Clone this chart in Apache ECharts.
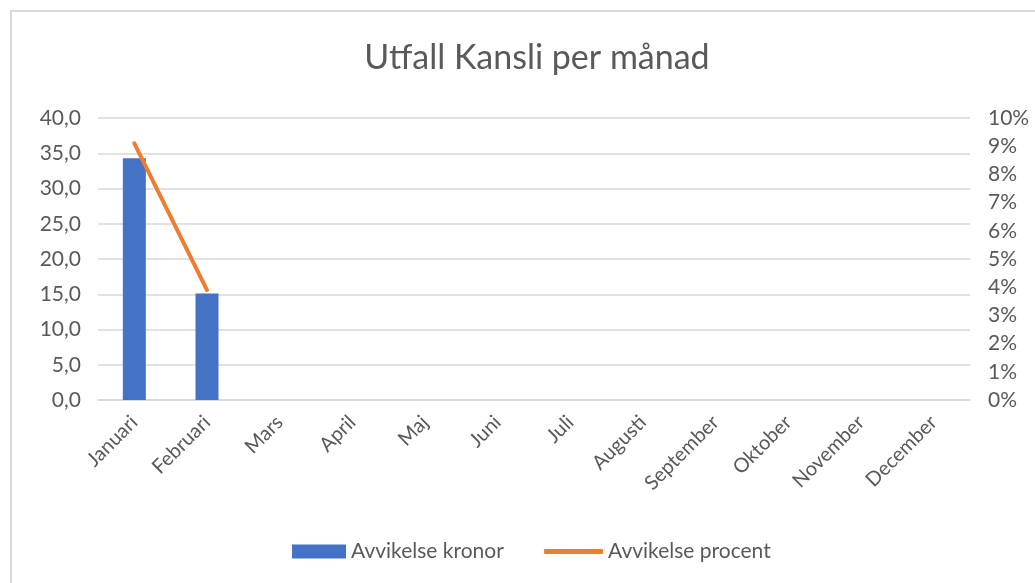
<!DOCTYPE html>
<html>
<head>
<meta charset="utf-8">
<script src="https://cdn.jsdelivr.net/npm/echarts@6/dist/echarts.min.js"></script>
<style>
  html, body { margin: 0; padding: 0; background: #fff; overflow: hidden; }
  #frame { position: absolute; left: 10px; top: 10px; width: 1040px; height: 600px; border-left: 2px solid #d9d9d9; border-top: 2px solid #d9d9d9; }
  #container { position: absolute; left: 0; top: 0; width: 1035px; height: 583px; }
</style>
</head>
<body>
<div id="frame"></div>
<div id="container"></div>
<script>
  var months = ['Januari', 'Februari', 'Mars', 'April', 'Maj', 'Juni', 'Juli', 'Augusti', 'September', 'Oktober', 'November', 'December'];
  // avvikelse i kronor (vänster axel)
  var kronor = [34.3, 15.1, null, null, null, null, null, null, null, null, null, null];
  // avvikelse i procent (höger axel)
  var procent = [0.091, 0.039, null, null, null, null, null, null, null, null, null, null];

  var font = 'Lato, "Open Sans", sans-serif';
  var grey = '#595959';

  var chartDom = document.getElementById('container');
  var myChart = echarts.init(chartDom);
  var option;

  option = {
    animation: false,
    textStyle: { fontFamily: font },
    title: {
      text: 'Utfall Kansli per månad',
      left: 532,
      textAlign: 'center',
      top: 36,
      textStyle: { fontFamily: font, fontSize: 34, fontWeight: 'normal', color: grey },
    },
    grid: { left: 98, right: 65, top: 118, bottom: 183, containLabel: false },
    legend: [
      {
        left: 287,
        top: 536,
        itemWidth: 54,
        itemHeight: 14,
        textStyle: { fontFamily: font, fontSize: 21, color: grey },
        data: [{ name: 'Avvikelse kronor', icon: 'rect' }],
      },
      {
        left: 539,
        top: 536,
        itemWidth: 59,
        itemHeight: 5,
        textStyle: { fontFamily: font, fontSize: 21, color: grey },
        data: [{ name: 'Avvikelse procent', icon: 'roundRect' }],
      },
    ],
    xAxis: {
      type: 'category',
      data: months,
      axisLine: { lineStyle: { color: '#d9d9d9', width: 1.5 } },
      axisTick: { show: false },
      axisLabel: { rotate: 45, color: grey, fontSize: 20, fontFamily: font, margin: 19, interval: 0 },
    },
    yAxis: [
      {
        type: 'value',
        min: 0,
        max: 40,
        interval: 5,
        axisLine: { show: false },
        axisTick: { show: false },
        splitLine: { lineStyle: { color: '#d9d9d9', width: 1.5 } },
        axisLabel: {
          color: grey,
          fontSize: 21,
          fontFamily: font,
          margin: 17,
          formatter: function(v) {
            return v.toFixed(1).replace('.', ',');
          },
        },
      },
      {
        type: 'value',
        min: 0,
        max: 0.1,
        interval: 0.01,
        axisLine: { show: false },
        axisTick: { show: false },
        splitLine: { show: false },
        axisLabel: {
          color: grey,
          fontSize: 21,
          fontFamily: font,
          margin: 18,
          formatter: function(v) {
            return Math.round(v * 100) + '%';
          },
        },
      },
    ],
    series: [
      {
        name: 'Avvikelse kronor',
        type: 'bar',
        yAxisIndex: 0,
        data: kronor,
        barWidth: 23,
        itemStyle: { color: '#4472c4' },
      },
      {
        name: 'Avvikelse procent',
        type: 'line',
        yAxisIndex: 1,
        data: procent,
        symbol: 'none',
        connectNulls: false,
        lineStyle: { color: '#ed7d31', width: 4, cap: 'round' },
        itemStyle: { color: '#ed7d31' },
      },
    ],
  };

  option && myChart.setOption(option);
</script>
</body>
</html>
